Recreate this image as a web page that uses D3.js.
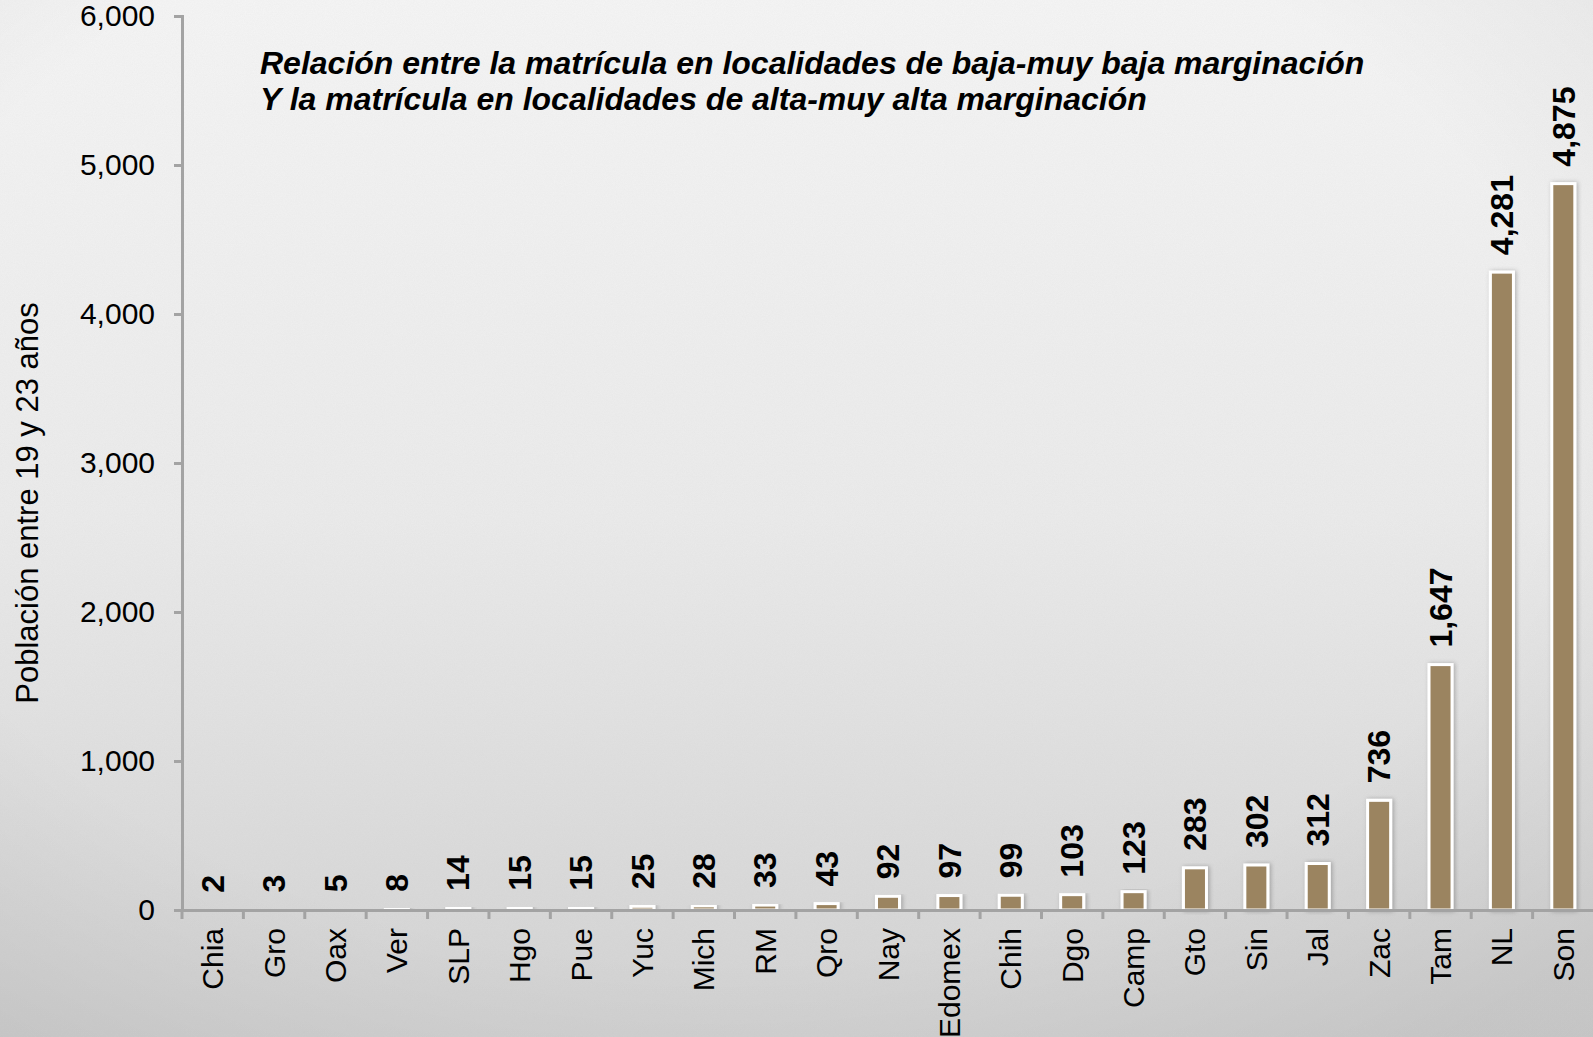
<!DOCTYPE html>
<html>
<head>
<meta charset="utf-8">
<script src="https://cdn.jsdelivr.net/npm/d3@7"></script>
<style>
  html, body { margin: 0; padding: 0; background: #e6e6e6; }
  svg { display: block; font-family: "Liberation Sans", Arial, sans-serif; }
</style>
</head>
<body>
<div id="chart"></div>
<script>
// data
var categories = ["Chia","Gro","Oax","Ver","SLP","Hgo","Pue","Yuc","Mich","RM","Qro","Nay",
                  "Edomex","Chih","Dgo","Camp","Gto","Sin","Jal","Zac","Tam","NL","Son"];
var values = [2, 3, 5, 8, 14, 15, 15, 25, 28, 33, 43, 92, 97, 99, 103, 123, 283, 302, 312, 736, 1647, 4281, 4875];
var yTicks = [0, 1000, 2000, 3000, 4000, 5000, 6000];
var titleLines = ["Relación entre la matrícula en localidades de baja-muy baja marginación",
                  "Y la matrícula en localidades de alta-muy alta marginación"];
var yTitle = "Población entre 19 y 23 años";

var W = 1593, H = 1037;
var margin = {top: 16, right: -1, bottom: 127, left: 182},
    width = W - margin.left - margin.right,
    height = H - margin.top - margin.bottom;

var root = d3.select("#chart")
  .append("svg")
    .attr("width", W)
    .attr("height", H);

var defs = root.append("defs");

// background: light paper with vertical fade and a soft vignette
var bg = defs.append("linearGradient").attr("id", "bgGrad")
  .attr("x1", 0).attr("y1", 0).attr("x2", 0).attr("y2", 1);
bg.append("stop").attr("offset", "0%").attr("stop-color", "#f5f5f5");
bg.append("stop").attr("offset", "50%").attr("stop-color", "#ebebeb");
bg.append("stop").attr("offset", "100%").attr("stop-color", "#d2d2d2");

var vig = defs.append("radialGradient").attr("id", "vig")
  .attr("cx", "45%").attr("cy", "40%").attr("r", "75%");
vig.append("stop").attr("offset", "70%").attr("stop-color", "#000").attr("stop-opacity", 0);
vig.append("stop").attr("offset", "100%").attr("stop-color", "#000").attr("stop-opacity", 0.06);

var noise = defs.append("filter").attr("id", "noise")
  .attr("x", 0).attr("y", 0).attr("width", "100%").attr("height", "100%");
noise.append("feTurbulence").attr("type", "fractalNoise")
  .attr("baseFrequency", 0.9).attr("numOctaves", 2).attr("seed", 3);
noise.append("feColorMatrix").attr("type", "matrix")
  .attr("values", "0 0 0 0 0.5  0 0 0 0 0.5  0 0 0 0 0.5  0 0 0 0.35 0");

var shadow = defs.append("filter").attr("id", "shadow")
  .attr("x", "-30%").attr("y", "-10%").attr("width", "160%").attr("height", "120%");
shadow.append("feDropShadow").attr("dx", 1.5).attr("dy", 0)
  .attr("stdDeviation", 2).attr("flood-color", "#000").attr("flood-opacity", 0.25);

root.append("rect").attr("width", W).attr("height", H).attr("fill", "url(#bgGrad)");
root.append("rect").attr("width", W).attr("height", H).attr("fill", "url(#vig)");
root.append("rect").attr("width", W).attr("height", H).attr("filter", "url(#noise)").attr("opacity", 0.3);

var svg = root.append("g")
  .attr("transform", "translate(" + margin.left + "," + margin.top + ")");

/** scales */
var x = d3.scaleBand()
  .domain(categories)
  .range([0, width])
  .paddingInner(0)
  .paddingOuter(0);

var y = d3.scaleLinear()
  .domain([0, 6000])
  .range([height, 0]);

var fmt = d3.format(",");

/** title */
svg.append("text")
  .attr("x", 78)
  .attr("y", 58)
  .style("font-size", "32px")
  .style("font-weight", "bold")
  .style("font-style", "italic")
  .style("fill", "#000")
  .selectAll("tspan")
  .data(titleLines)
  .enter()
  .append("tspan")
    .attr("x", 78)
    .attr("dy", function(d, i) { return i === 0 ? 0 : 36; })
    .text(function(d) { return d; });

/** bars */
var barW = x.bandwidth() * 0.375;
svg.selectAll("rect.bar")
  .data(values)
  .enter()
  .append("rect")
    .attr("class", "bar")
    .attr("x", function(d, i) { return x(categories[i]) + x.bandwidth() / 2 - barW / 2; })
    .attr("y", function(d) { return y(d); })
    .attr("width", barW)
    .attr("height", function(d) { return height - y(d); })
    .attr("fill", "#9b8460")
    .attr("stroke", "#fff")
    .attr("stroke-width", 3)
    .attr("filter", "url(#shadow)");

/** value labels */
svg.selectAll("text.val")
  .data(values)
  .enter()
  .append("text")
    .attr("class", "val")
    .attr("transform", function(d, i) {
      return "translate(" + (x(categories[i]) + x.bandwidth() / 2) + "," + (y(d) - 17) + ") rotate(-90)";
    })
    .attr("dy", "0.35em")
    .style("font-size", "32px")
    .style("font-weight", "bold")
    .style("fill", "#000")
    .text(function(d) { return fmt(d); });

/** x axis */
var xAxis = svg.append("g")
  .attr("transform", "translate(0," + height + ")")
  .call(d3.axisBottom(x).tickSize(0).tickSizeOuter(0));
xAxis.select(".domain").attr("stroke", "#a3a3a3").attr("stroke-width", 3);
xAxis.selectAll(".tick line").remove();
// ticks sit on the band boundaries
xAxis.selectAll("line.sep")
  .data(categories)
  .enter()
  .append("line")
    .attr("class", "sep")
    .attr("x1", function(d) { return x(d); })
    .attr("x2", function(d) { return x(d); })
    .attr("y1", 0)
    .attr("y2", 9)
    .attr("stroke", "#a3a3a3")
    .attr("stroke-width", 3);
xAxis.selectAll(".tick text")
  .attr("transform", "rotate(-90)")
  .attr("x", -18)
  .attr("y", 0)
  .attr("dy", "0.35em")
  .style("text-anchor", "end")
  .style("font-size", "30px")
  .style("font-family", "'Liberation Sans', Arial, sans-serif")
  .style("fill", "#000");

/** y axis */
var yAxis = svg.append("g")
  .call(d3.axisLeft(y).tickValues(yTicks).tickFormat(fmt).tickSize(8).tickSizeOuter(8).tickPadding(19));
yAxis.select(".domain").attr("stroke", "#a3a3a3").attr("stroke-width", 3);
yAxis.selectAll(".tick line").attr("stroke", "#a3a3a3").attr("stroke-width", 3);
yAxis.selectAll(".tick text")
  .style("font-size", "30px")
  .style("font-family", "'Liberation Sans', Arial, sans-serif")
  .style("fill", "#000");

/** y axis title */
root.append("text")
  .attr("transform", "translate(27,503) rotate(-90)")
  .attr("dy", "0.35em")
  .style("text-anchor", "middle")
  .style("font-size", "31px")
  .style("fill", "#000")
  .text(yTitle);
</script>
</body>
</html>
